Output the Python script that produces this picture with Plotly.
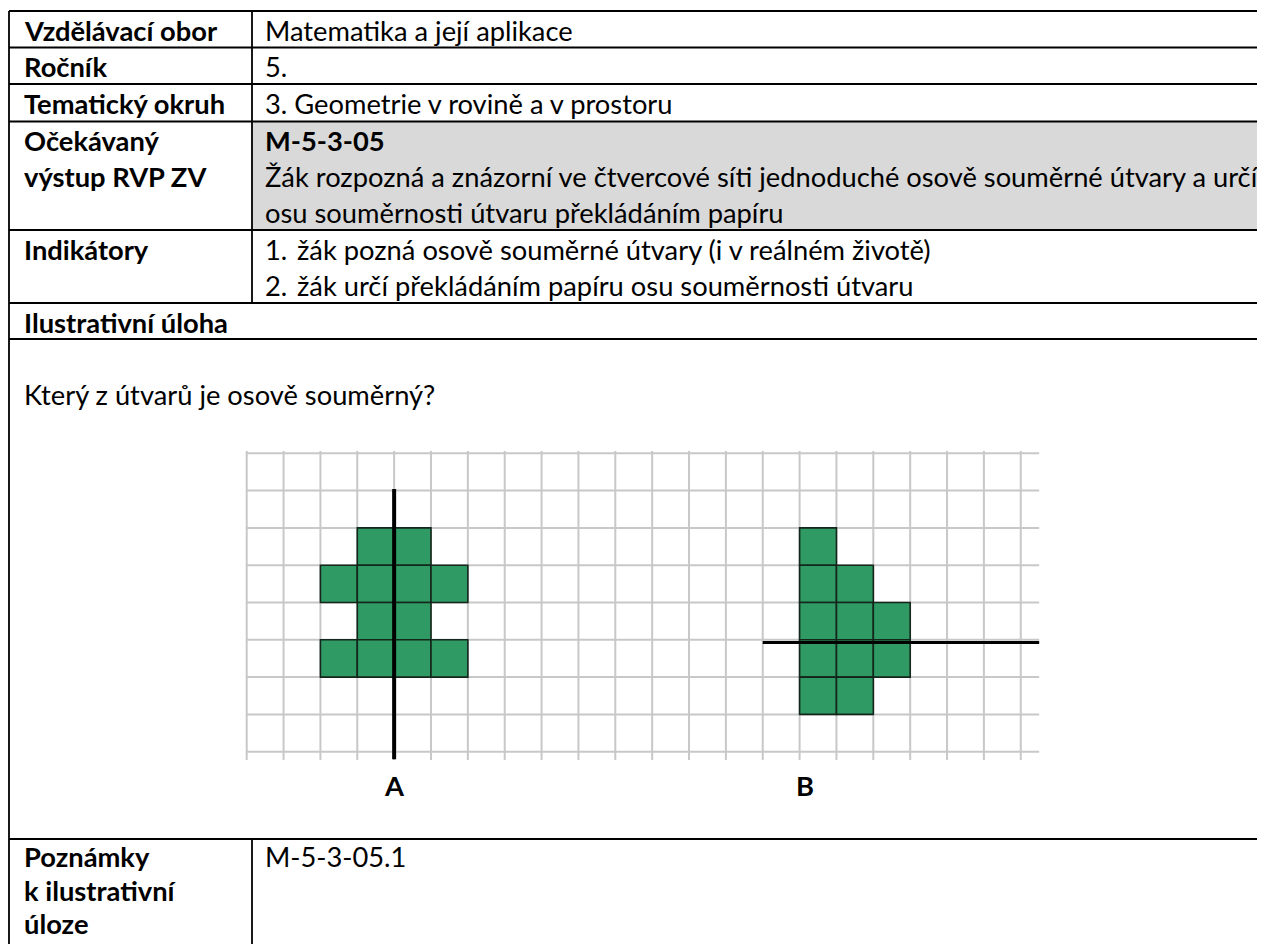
import plotly.graph_objects as go

# ---------------- data ----------------
left_labels = ["Vzdělávací obor", "Ročník", "Tematický okruh", "Očekávaný\nvýstup RVP ZV",
               "Indikátory"]
right_values = ["Matematika a její aplikace", "5.", "3. Geometrie v rovině a v prostoru"]
outcome_code = "M-5-3-05"
outcome_text = ["Žák rozpozná a znázorní ve čtvercové síti jednoduché osově souměrné útvary a určí",
                "osu souměrnosti útvaru překládáním papíru"]
indicators = ["žák pozná osově souměrné útvary (i v reálném životě)",
              "žák určí překládáním papíru osu souměrnosti útvaru"]
task_header = "Ilustrativní úloha"
task_question = "Který z útvarů je osově souměrný?"
notes_label = ["Poznámky", "k ilustrativní", "úloze"]
notes_value = "M-5-3-05.1"

# grid figure (column index, row index from top)
grid_cols = list(range(0, 22))
grid_rows = list(range(0, 9))
shape_a_cells = [(3, 2), (4, 2),
                 (2, 3), (3, 3), (4, 3), (5, 3),
                 (3, 4), (4, 4),
                 (2, 5), (3, 5), (4, 5), (5, 5)]
shape_b_cells = [(15, 2),
                 (15, 3), (16, 3),
                 (15, 4), (16, 4), (17, 4),
                 (15, 5), (16, 5), (17, 5),
                 (15, 6), (16, 6)]
axis_a = {"x": 4, "y0": 0.96, "y1": 8.2}
axis_b = {"y": 5.07, "x0": 14, "x1": 21.5}
shape_labels = [("A", 4, 8.9), ("B", 15.15, 8.9)]

# ---------------- layout constants ----------------
W, H = 1265, 944
OFF = 8          # page body margin of the html page
FONT = "Lato"
FS = 27.3
row_y = [11, 47.5, 84, 121.5, 230, 303, 339, 839, 960]
col_x = [9, 252, 1300]
LINE = 36.1
LX, RX, LIST_X = 22, 263, 295
notes_yc = [856, 890, 923]

# grid pixel mapping (page pixels)
gx0, gdx = 246.7, 36.86
gy0, gdy = 453.3, 37.3

fig = go.Figure()
fig.add_trace(go.Scatter(x=[OFF + 1], y=[OFF + 1], mode="markers", marker=dict(opacity=0),
                         hoverinfo="skip", showlegend=False, xaxis="x", yaxis="y"))
fig.add_trace(go.Scatter(x=[0], y=[0], mode="markers", marker=dict(opacity=0),
                         hoverinfo="skip", showlegend=False, xaxis="x2", yaxis="y2"))

shapes = []
shapes.append(dict(type="rect", xref="x", yref="y", x0=col_x[1], x1=col_x[2],
                   y0=row_y[3], y1=row_y[4], fillcolor="#d9d9d9", line=dict(width=0),
                   layer="below"))
for c in grid_cols:
    shapes.append(dict(type="line", xref="x2", yref="y2", x0=c, x1=c, y0=-0.06, y1=8.22,
                       line=dict(color="#c8c8c8", width=2)))
for r in grid_rows:
    shapes.append(dict(type="line", xref="x2", yref="y2", x0=0, x1=21.5, y0=r, y1=r,
                       line=dict(color="#c8c8c8", width=2)))
for (c, r) in shape_a_cells + shape_b_cells:
    shapes.append(dict(type="rect", xref="x2", yref="y2", x0=c, x1=c + 1, y0=r, y1=r + 1,
                       fillcolor="#2f9a64", line=dict(color="#14261b", width=1.6)))
shapes.append(dict(type="line", xref="x2", yref="y2", x0=axis_a["x"], x1=axis_a["x"],
                   y0=axis_a["y0"], y1=axis_a["y1"], line=dict(color="#000000", width=4)))
shapes.append(dict(type="line", xref="x2", yref="y2", x0=axis_b["x0"], x1=axis_b["x1"],
                   y0=axis_b["y"], y1=axis_b["y"], line=dict(color="#000000", width=3)))

for y in row_y[:-1]:
    shapes.append(dict(type="line", xref="x", yref="y", x0=col_x[0], x1=W + 20, y0=y, y1=y,
                       line=dict(color="#000000", width=1.8)))
shapes.append(dict(type="line", xref="x", yref="y", x0=col_x[0], x1=col_x[0], y0=row_y[0],
                   y1=H + 20, line=dict(color="#000000", width=1.8)))
shapes.append(dict(type="line", xref="x", yref="y", x0=col_x[1], x1=col_x[1], y0=row_y[0],
                   y1=row_y[5], line=dict(color="#000000", width=1.8)))
shapes.append(dict(type="line", xref="x", yref="y", x0=col_x[1], x1=col_x[1], y0=row_y[7],
                   y1=H + 20, line=dict(color="#000000", width=1.8)))

ann = []


def txt(x, y, s, bold=False, anchor="left"):
    ann.append(dict(x=x, y=y, xref="x", yref="y", text=("<b>%s</b>" % s) if bold else s,
                    showarrow=False, xanchor=anchor, yanchor="middle",
                    font=dict(family=FONT, size=FS, color="#000000")))


for i in range(3):
    yc = (row_y[i] + row_y[i + 1]) / 2 + 1
    txt(LX, yc, left_labels[i], bold=True)
    txt(RX, yc, right_values[i])
for k, s in enumerate(left_labels[3].split("\n")):
    txt(LX, row_y[3] + LINE * (k + 0.5) + 1, s, bold=True)
txt(RX, row_y[3] + LINE * 0.5 + 1, outcome_code, bold=True)
for k, s in enumerate(outcome_text):
    txt(RX, row_y[3] + LINE * (k + 1.5) + 1, s)
txt(LX, row_y[4] + LINE * 0.5 + 1, left_labels[4], bold=True)
for k, s in enumerate(indicators):
    yc = row_y[4] + LINE * (k + 0.5) + 1
    txt(RX, yc, "%d." % (k + 1))
    txt(LIST_X, yc, s)
txt(LX, row_y[5] + LINE * 0.5 + 1, task_header, bold=True)
txt(LX, row_y[6] + LINE * 1.5 + 1, task_question)
for s, c, r in shape_labels:
    ann.append(dict(x=c, y=r, xref="x2", yref="y2", text="<b>%s</b>" % s, showarrow=False,
                    xanchor="center", yanchor="middle",
                    font=dict(family=FONT, size=FS, color="#000000")))
for k, s in enumerate(notes_label):
    txt(LX, notes_yc[k], s, bold=True)
txt(RX, notes_yc[0], notes_value)

fig.update_layout(
    width=W, height=H, margin=dict(l=0, r=0, t=0, b=0),
    paper_bgcolor="#ffffff", plot_bgcolor="#ffffff",
    shapes=shapes, annotations=ann, showlegend=False,
    xaxis=dict(range=[OFF, W + OFF], visible=False, domain=[0, 1], fixedrange=True),
    yaxis=dict(range=[H + OFF, OFF], visible=False, domain=[0, 1], fixedrange=True),
    xaxis2=dict(range=[(OFF - gx0) / gdx, (W + OFF - gx0) / gdx], visible=False,
                domain=[0, 1], overlaying="x", anchor="y2", fixedrange=True),
    yaxis2=dict(range=[(H + OFF - gy0) / gdy, (OFF - gy0) / gdy], visible=False,
                domain=[0, 1], overlaying="y", anchor="x2", fixedrange=True),
)
fig.write_html("out.html", config={"displayModeBar": False})
